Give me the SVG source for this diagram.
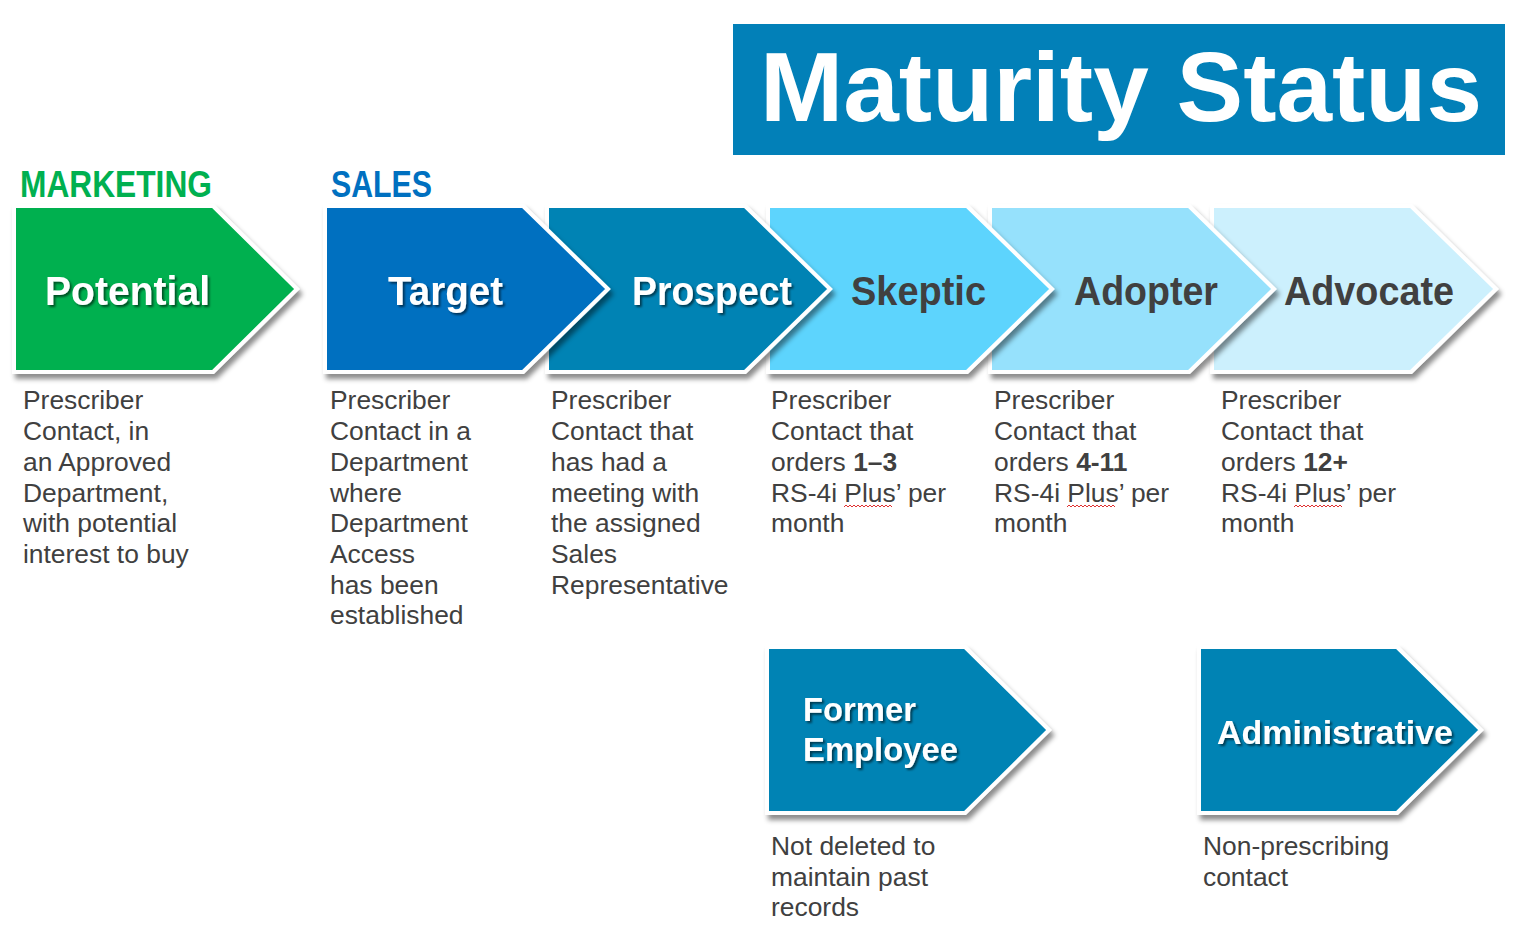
<svg xmlns="http://www.w3.org/2000/svg" width="1524" height="940" viewBox="0 0 1524 940">
<defs>
<filter id="sh" x="-10%" y="-10%" width="125%" height="130%">
<feDropShadow dx="3" dy="5" stdDeviation="2.5" flood-color="#000" flood-opacity="0.45"/>
</filter>
<filter id="tsh" x="-10%" y="-20%" width="125%" height="150%">
<feDropShadow dx="2" dy="2" stdDeviation="1.2" flood-color="#000" flood-opacity="0.55"/>
</filter>
</defs>
<style>
.chev{stroke:#fff;stroke-width:4;stroke-linejoin:miter;filter:url(#sh)}
.lbl{font-family:"Liberation Sans",Arial,sans-serif;font-weight:bold;font-size:40px;fill:#fff;filter:url(#tsh)}
.lbld{font-family:"Liberation Sans",Arial,sans-serif;font-weight:bold;font-size:40px;fill:#404040}
.lbls{font-size:34px}
.desc{font-family:"Liberation Sans",Arial,sans-serif;font-size:26.4px;fill:#404040}
.b{font-weight:bold}
.hdr{font-family:"Liberation Sans",Arial,sans-serif;font-weight:bold;font-size:36px}
.wavy{fill:none;stroke:#e03030;stroke-width:1}
</style>
<rect width="1524" height="940" fill="#fff"/>

<g id="title">
<rect x="733" y="24" width="772" height="131" fill="#0280b8"/>
<text x="760" y="121" font-family="Liberation Sans,Arial,sans-serif" font-weight="bold" font-size="98" fill="#fff" textLength="722" lengthAdjust="spacingAndGlyphs">Maturity Status</text>
</g>

<g id="headers">
<text class="hdr" x="20" y="197" fill="#00b050" textLength="192" lengthAdjust="spacingAndGlyphs">MARKETING</text>
<text class="hdr" x="331" y="197" fill="#0070c0" textLength="101" lengthAdjust="spacingAndGlyphs">SALES</text>
</g>

<g id="connectors"/>

<g id="advocate">
<polygon class="chev" points="1212,206 1411,206 1496,289 1411,372 1212,372" fill="#ccf0fd"/>
<text class="lbld" x="1284" y="305" textLength="170" lengthAdjust="spacingAndGlyphs">Advocate</text>
<text class="desc" x="1221" y="409">Prescriber</text>
<text class="desc" x="1221" y="440">Contact that</text>
<text class="desc" x="1221" y="471">orders <tspan class="b">12+</tspan></text>
<text class="desc" x="1221" y="502">RS-4i Plus’ per</text>
<text class="desc" x="1221" y="532">month</text>
<path class="wavy" d="M1294,507 l2,-2 l2,2 l2,-2 l2,2 l2,-2 l2,2 l2,-2 l2,2 l2,-2 l2,2 l2,-2 l2,2 l2,-2 l2,2 l2,-2 l2,2 l2,-2 l2,2 l2,-2 l2,2 l2,-2 l2,2 l2,-2 l2,2"/>
</g>

<g id="adopter">
<polygon class="chev" points="990,206 1189,206 1274,289 1189,372 990,372" fill="#96e1fc"/>
<text class="lbld" x="1074" y="305" textLength="144" lengthAdjust="spacingAndGlyphs">Adopter</text>
<text class="desc" x="994" y="409">Prescriber</text>
<text class="desc" x="994" y="440">Contact that</text>
<text class="desc" x="994" y="471">orders <tspan class="b">4-11</tspan></text>
<text class="desc" x="994" y="502">RS-4i Plus’ per</text>
<text class="desc" x="994" y="532">month</text>
<path class="wavy" d="M1067,507 l2,-2 l2,2 l2,-2 l2,2 l2,-2 l2,2 l2,-2 l2,2 l2,-2 l2,2 l2,-2 l2,2 l2,-2 l2,2 l2,-2 l2,2 l2,-2 l2,2 l2,-2 l2,2 l2,-2 l2,2 l2,-2 l2,2"/>
</g>

<g id="skeptic">
<polygon class="chev" points="768,206 967,206 1052,289 967,372 768,372" fill="#5dd4fd"/>
<text class="lbld" x="851" y="305" textLength="135" lengthAdjust="spacingAndGlyphs">Skeptic</text>
<text class="desc" x="771" y="409">Prescriber</text>
<text class="desc" x="771" y="440">Contact that</text>
<text class="desc" x="771" y="471">orders <tspan class="b">1–3</tspan></text>
<text class="desc" x="771" y="502">RS-4i Plus’ per</text>
<text class="desc" x="771" y="532">month</text>
<path class="wavy" d="M844,507 l2,-2 l2,2 l2,-2 l2,2 l2,-2 l2,2 l2,-2 l2,2 l2,-2 l2,2 l2,-2 l2,2 l2,-2 l2,2 l2,-2 l2,2 l2,-2 l2,2 l2,-2 l2,2 l2,-2 l2,2 l2,-2 l2,2"/>
</g>

<g id="prospect">
<polygon class="chev" points="547,206 745,206 830,289 745,372 547,372" fill="#0083b4"/>
<text class="lbl" x="632" y="305" textLength="160" lengthAdjust="spacingAndGlyphs">Prospect</text>
<text class="desc" x="551" y="409">Prescriber</text>
<text class="desc" x="551" y="440">Contact that</text>
<text class="desc" x="551" y="471">has had a</text>
<text class="desc" x="551" y="502">meeting with</text>
<text class="desc" x="551" y="532">the assigned</text>
<text class="desc" x="551" y="563">Sales</text>
<text class="desc" x="551" y="594">Representative</text>
</g>

<g id="target">
<polygon class="chev" points="325,206 523,206 608,289 523,372 325,372" fill="#0070c0"/>
<text class="lbl" x="388" y="305" textLength="115" lengthAdjust="spacingAndGlyphs">Target</text>
<text class="desc" x="330" y="409">Prescriber</text>
<text class="desc" x="330" y="440">Contact in a</text>
<text class="desc" x="330" y="471">Department</text>
<text class="desc" x="330" y="502">where</text>
<text class="desc" x="330" y="532">Department</text>
<text class="desc" x="330" y="563">Access</text>
<text class="desc" x="330" y="594">has been</text>
<text class="desc" x="330" y="624">established</text>
</g>

<g id="potential">
<polygon class="chev" points="14,206 213,206 297,289 213,372 14,372" fill="#00b050"/>
<text class="lbl" x="45" y="305" textLength="165" lengthAdjust="spacingAndGlyphs">Potential</text>
<text class="desc" x="23" y="409">Prescriber</text>
<text class="desc" x="23" y="440">Contact, in</text>
<text class="desc" x="23" y="471">an Approved</text>
<text class="desc" x="23" y="502">Department,</text>
<text class="desc" x="23" y="532">with potential</text>
<text class="desc" x="23" y="563">interest to buy</text>
</g>

<g id="former-employee">
<polygon class="chev" points="767,647 965,647 1049,730 965,813 767,813" fill="#0083b4"/>
<text class="lbl lbls" x="803" y="721" textLength="113" lengthAdjust="spacingAndGlyphs">Former</text>
<text class="lbl lbls" x="803" y="761" textLength="155" lengthAdjust="spacingAndGlyphs">Employee</text>
<text class="desc" x="771" y="855">Not deleted to</text>
<text class="desc" x="771" y="886">maintain past</text>
<text class="desc" x="771" y="916">records</text>
</g>

<g id="administrative">
<polygon class="chev" points="1199,647 1397,647 1481,730 1397,813 1199,813" fill="#0083b4"/>
<text class="lbl lbls" x="1217" y="744" textLength="236" lengthAdjust="spacingAndGlyphs">Administrative</text>
<text class="desc" x="1203" y="855">Non-prescribing</text>
<text class="desc" x="1203" y="886">contact</text>
</g>
</svg>
